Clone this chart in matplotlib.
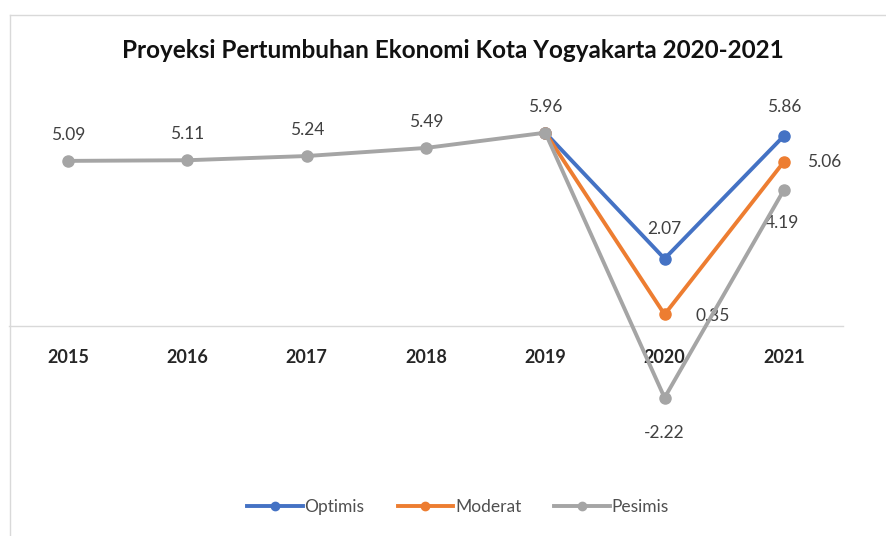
import matplotlib
matplotlib.use("Agg")
import matplotlib.pyplot as plt
from matplotlib.lines import Line2D

years = ["2015", "2016", "2017", "2018", "2019", "2020", "2021"]
optimis = [5.09, 5.11, 5.24, 5.49, 5.96, 2.07, 5.86]
moderat = [5.09, 5.11, 5.24, 5.49, 5.96, 0.35, 5.06]
pesimis = [5.09, 5.11, 5.24, 5.49, 5.96, -2.22, 4.19]

title = "Proyeksi Pertumbuhan Ekonomi Kota Yogyakarta 2020-2021"
series_names = ["Optimis", "Moderat", "Pesimis"]
colors = ["#4472C4", "#ED7D31", "#A5A5A5"]

plt.rcParams['font.family'] = ['Lato', 'DejaVu Sans']

W, H = 886, 536
fig = plt.figure(figsize=(W / 100, H / 100), dpi=100)

# axes in pixel coords: x 8.5..843.5, y(data 7)=99, y(data -3)=423
left, right = 8.5, 843.5
top, bottom = 99, 423
ax = fig.add_axes([left / W, 1 - bottom / H, (right - left) / W, (bottom - top) / H])
ax.set_xlim(-0.5, len(years) - 0.5)
ax.set_ylim(-3, 7)

x = list(range(len(years)))
for vals, c in zip([optimis, moderat], colors[:2]):
    ax.plot(x[4:], vals[4:], color=c, lw=2.8, marker='o', ms=8, zorder=3)
ax.plot(x, pesimis, color=colors[2], lw=2.8, marker='o', ms=8, zorder=4)

for s in ['top', 'left', 'right']:
    ax.spines[s].set_visible(False)
ax.spines['bottom'].set_position(('data', 0))
ax.spines['bottom'].set_color('#D9D9D9')
ax.spines['bottom'].set_linewidth(1)
ax.set_yticks([])
ax.set_xticks(x)
ax.set_xticklabels(years, fontsize=13, fontweight='bold', color='#262626')
ax.tick_params(axis='x', length=0, pad=17)

lab_kw = dict(fontsize=12.5, color='#404040', ha='center', va='center', textcoords='offset pixels')
# labels for shared years (Pesimis)
for i in range(5):
    ax.annotate(f"{pesimis[i]:.2f}", (x[i], pesimis[i]), xytext=(0, 26), **lab_kw)
ax.annotate(f"{optimis[5]:.2f}", (x[5], optimis[5]), xytext=(0, 30), **lab_kw)
ax.annotate(f"{optimis[6]:.2f}", (x[6], optimis[6]), xytext=(0, 29), **lab_kw)
ax.annotate(f"{moderat[5]:.2f}", (x[5], moderat[5]), xytext=(48, -2), **lab_kw)
ax.annotate(f"{moderat[6]:.2f}", (x[6], moderat[6]), xytext=(40, 0), **lab_kw)
ax.annotate(f"{pesimis[5]:.2f}", (x[5], pesimis[5]), xytext=(0, -35), **lab_kw)
ax.annotate(f"{pesimis[6]:.2f}", (x[6], pesimis[6]), xytext=(-2, -33), **lab_kw)

fig.text(453 / W, 1 - 50 / H, title, ha='center', va='center', fontsize=17.5,
         fontweight='bold', color='#111111')

# chart border lines (top and left)
fig.add_artist(Line2D([9.5 / W, 1.0], [1 - 15 / H, 1 - 15 / H], transform=fig.transFigure,
                      color='#D9D9D9', lw=1))
fig.add_artist(Line2D([9.5 / W, 9.5 / W], [1 - 15 / H, 0], transform=fig.transFigure,
                      color='#D9D9D9', lw=1))

handles = [Line2D([], [], color=c, lw=2.8, marker='o', ms=6) for c in colors]
fig.legend(handles, series_names, loc='center', bbox_to_anchor=(458 / W, 1 - 507 / H),
           ncol=3, frameon=False, fontsize=12.5, handlelength=3.2, handletextpad=0.1,
           columnspacing=1.9, labelcolor='#505050')

fig.savefig("out.png", dpi=100, facecolor='white')
